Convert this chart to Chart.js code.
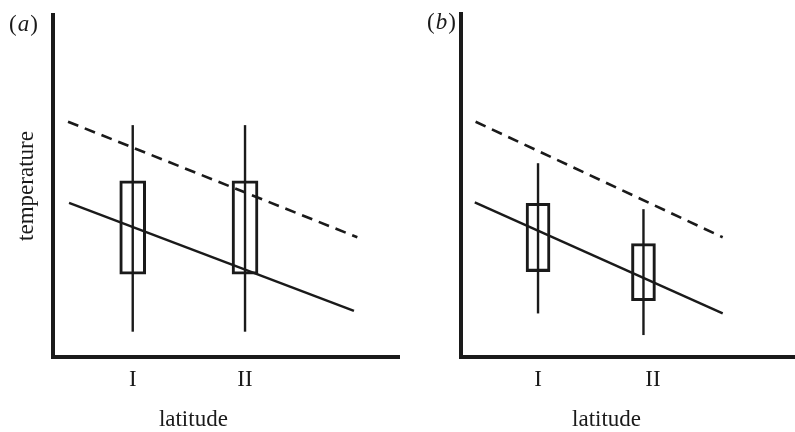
<!DOCTYPE html>
<html>
<head>
<meta charset="utf-8">
<script src="https://cdn.jsdelivr.net/npm/chart.js@4"></script>
<style>
  html, body { margin: 0; padding: 0; background: #fff; }
  #wrap { position: relative; width: 795px; height: 432px; }
  #pa { position: absolute; left: 0; top: 0; width: 400px; height: 432px; }
  #pb { position: absolute; left: 400px; top: 0; width: 395px; height: 432px; }
</style>
</head>
<body>
<div id="wrap">
  <div id="pa"><canvas id="ca" width="400" height="432"></canvas></div>
  <div id="pb"><canvas id="cb" width="395" height="432"></canvas></div>
</div>
<script>
// ---- data ----
const categories = ['I', 'II'];
const tickPositions = [1, 2];
const xTitle = 'latitude';
const yTitle = 'temperature';
const panelLetters = ['a', 'b'];

// panel (a)
const aDashedX = [0.424, 3.0];
const aDashedY = [6.88, 3.50];
const aSolidX = [0.433, 2.97];
const aSolidY = [4.51, 1.35];
const aBoxX = [1, 2];
const aBoxLow = [2.42, 2.42];
const aBoxHigh = [5.15, 5.15];
const aWhiskerLow = [0.74, 0.74];
const aWhiskerHigh = [6.78, 6.78];

// panel (b)
const bDashedX = [0.457, 2.606];
const bDashedY = [6.86, 3.49];
const bSolidX = [0.45, 2.606];
const bSolidY = [4.51, 1.27];
const bBoxX = [1, 1.917];
const bBoxLow = [2.49, 1.64];
const bBoxHigh = [4.48, 3.31];
const bWhiskerLow = [1.27, 0.64];
const bWhiskerHigh = [5.65, 4.31];

// ---- drawing ----
const INK = '#1a1a1a';
const TEXT = '#1a1a1a';
const SERIF = '"Liberation Serif", "DejaVu Serif", "Times New Roman", serif';
const FS = 23;

function pts(xs, ys) { return xs.map((x, i) => ({ x: x, y: ys[i] })); }

function buildDatasets(d) {
  const ds = [];
  ds.push({ type: 'line', data: pts(d.dashedX, d.dashedY), borderColor: INK, borderWidth: 2.6,
            borderDash: [11, 7], pointRadius: 0, fill: false, tension: 0 });
  ds.push({ type: 'line', data: pts(d.solidX, d.solidY), borderColor: INK, borderWidth: 2.4,
            pointRadius: 0, fill: false, tension: 0 });
  d.boxX.forEach((x, i) => {
    ds.push({ type: 'line', data: [{ x: x, y: d.wLow[i] }, { x: x, y: d.wHigh[i] }],
              borderColor: INK, borderWidth: 2.4, pointRadius: 0, fill: false });
  });
  ds.push({ type: 'bar', data: d.boxX.map((x, i) => ({ x: x, y: [d.boxLow[i], d.boxHigh[i]] })),
            backgroundColor: 'rgba(0,0,0,0)', borderColor: INK, borderWidth: 2.4,
            borderSkipped: false, barThickness: d.boxWidth, grouped: false });
  return ds;
}

const labelPlugin = {
  id: 'panelText',
  afterDraw(chart) {
    const o = chart.options.plugins.panelText;
    const ctx = chart.ctx;
    const xs = chart.scales.x;
    ctx.save();
    ctx.fillStyle = TEXT;
    ctx.textBaseline = 'middle';
    // x title
    ctx.font = FS + 'px ' + SERIF;
    ctx.textAlign = 'center';
    ctx.fillText(xTitle, xs.getPixelForValue(o.titleAt), 420);
    // panel letter "(a)"
    ctx.textAlign = 'left';
    let x = o.letterX;
    ctx.font = FS + 'px ' + SERIF;
    ctx.fillText('(', x, o.letterY); x += ctx.measureText('(').width + 1;
    ctx.font = 'italic ' + FS + 'px ' + SERIF;
    ctx.fillText(o.letter, x, o.letterY); x += ctx.measureText(o.letter).width + 1;
    ctx.font = FS + 'px ' + SERIF;
    ctx.fillText(')', x, o.letterY);
    ctx.restore();
  }
};

function makeChart(canvasId, d, cfg) {
  return new Chart(document.getElementById(canvasId), {
    type: 'line',
    data: { datasets: buildDatasets(d) },
    plugins: [labelPlugin],
    options: {
      responsive: false,
      animation: false,
      events: [],
      layout: { padding: { left: 0, right: 0, top: cfg.top, bottom: 0 } },
      plugins: {
        legend: { display: false },
        tooltip: { enabled: false },
        panelText: { titleAt: cfg.titleAt, letter: cfg.letter, letterX: cfg.letterX, letterY: cfg.letterY }
      },
      scales: {
        x: {
          type: 'linear', min: cfg.xMin, max: cfg.xMax, offset: false,
          grid: { display: false, drawTicks: false },
          border: { display: true, width: 4, color: INK },
          afterBuildTicks: (s) => { s.ticks = tickPositions.map(v => ({ value: v })); },
          afterFit: (s) => { s.height = 432 - 357; },
          ticks: {
            autoSkip: false, maxRotation: 0, padding: 9, color: TEXT,
            font: { family: SERIF, size: FS },
            callback: (v, i) => categories[i]
          }
        },
        y: {
          type: 'linear', min: 0, max: 10,
          grid: { display: false, drawTicks: false },
          border: { display: true, width: 4, color: INK },
          ticks: { display: false },
          afterFit: (s) => { s.width = cfg.yWidth; },
          title: {
            display: cfg.showYTitle, text: yTitle, color: TEXT,
            font: { family: SERIF, size: FS }, padding: { top: 13, bottom: 0 }
          }
        }
      }
    }
  });
}

makeChart('ca', {
  dashedX: aDashedX, dashedY: aDashedY, solidX: aSolidX, solidY: aSolidY,
  boxX: aBoxX, boxLow: aBoxLow, boxHigh: aBoxHigh, wLow: aWhiskerLow, wHigh: aWhiskerHigh, boxWidth: 26
}, { top: 15, xMin: 0.29, xMax: 3.38, yWidth: 53, showYTitle: true, titleAt: 1.54,
     letter: panelLetters[0], letterX: 9, letterY: 25 });

makeChart('cb', {
  dashedX: bDashedX, dashedY: bDashedY, solidX: bSolidX, solidY: bSolidY,
  boxX: bBoxX, boxLow: bBoxLow, boxHigh: bBoxHigh, wLow: bWhiskerLow, wHigh: bWhiskerHigh, boxWidth: 24
}, { top: 14, xMin: 0.33, xMax: 3.235, yWidth: 61, showYTitle: false, titleAt: 1.596,
     letter: panelLetters[1], letterX: 27, letterY: 23 });
</script>
</body>
</html>
